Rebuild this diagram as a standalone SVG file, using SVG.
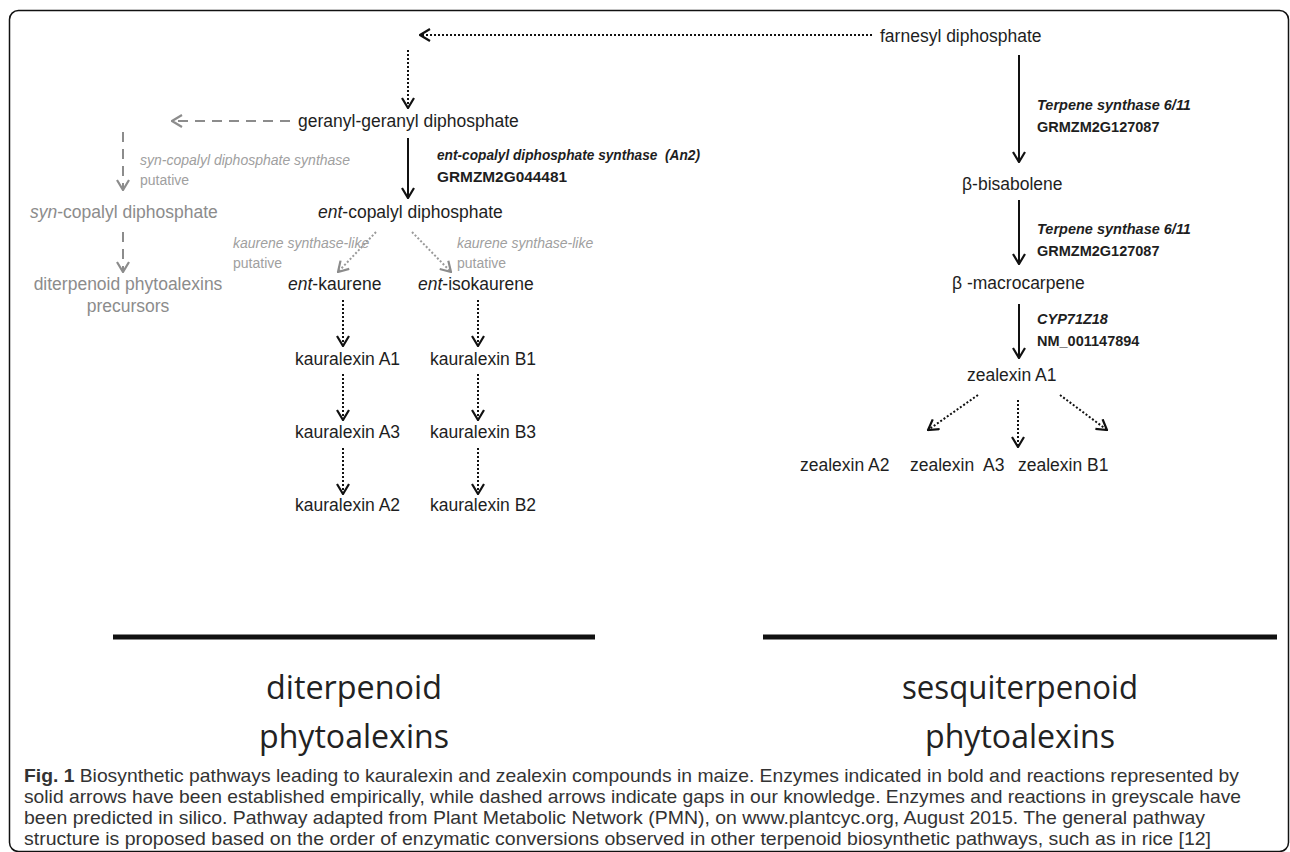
<svg xmlns="http://www.w3.org/2000/svg" width="1290" height="852" viewBox="0 0 1290 852">
<style>
.lbl{font-family:"Liberation Sans",Arial,sans-serif;font-size:17.5px;fill:#1e1e1e}
.gl{font-family:"Liberation Sans",Arial,sans-serif;font-size:17.5px;fill:#8c8c8c}
.enz{font-family:"Liberation Sans",Arial,sans-serif;font-size:14.5px;font-weight:bold;fill:#1e1e1e}
.genz{font-family:"Liberation Sans",Arial,sans-serif;font-size:14px;fill:#a0a0a0}
.big{font-family:"Open Sans","Liberation Sans",sans-serif;font-size:33px;fill:#222;text-anchor:middle}
.cap{font-family:"Liberation Sans",Arial,sans-serif;font-size:18.5px;fill:#333}
.solid{stroke:#111;stroke-width:2;fill:none}
.dot{stroke:#111;stroke-width:2;stroke-dasharray:2 2;fill:none}
.gdash{stroke:#8c8c8c;stroke-width:2;stroke-dasharray:10 7;fill:none}
.gdot{stroke:#9a9a9a;stroke-width:2;stroke-dasharray:2 2;fill:none}
.bar{stroke:#111;stroke-width:5}
</style>
<defs>
<marker id="ah" viewBox="0 0 12 14" refX="11" refY="7" markerWidth="12" markerHeight="14" orient="auto" markerUnits="userSpaceOnUse"><path d="M1,1 L11,7 L1,13" fill="none" stroke="#111" stroke-width="2.2"/></marker>
<marker id="ahg" viewBox="0 0 12 14" refX="11" refY="7" markerWidth="12" markerHeight="14" orient="auto" markerUnits="userSpaceOnUse"><path d="M1,1 L11,7 L1,13" fill="none" stroke="#8c8c8c" stroke-width="2.2"/></marker>
</defs>
<rect x="9.5" y="10.5" width="1279" height="841" rx="9" fill="#fff" stroke="#111" stroke-width="1.5"/>

<g id="connectors">
<line class="dot" x1="872" y1="35" x2="420" y2="35" marker-end="url(#ah)"/>
<line class="dot" x1="408" y1="50" x2="408" y2="108" marker-end="url(#ah)"/>
<line class="gdash" x1="290" y1="121" x2="172" y2="121" marker-end="url(#ahg)"/>
<line class="gdash" x1="123" y1="132" x2="123" y2="190" marker-end="url(#ahg)"/>
<line class="solid" x1="408" y1="138" x2="408" y2="198" marker-end="url(#ah)"/>
<line class="gdash" x1="123" y1="232" x2="123" y2="272" marker-end="url(#ahg)"/>
<line class="gdot" x1="376" y1="232" x2="338" y2="272" marker-end="url(#ahg)"/>
<line class="gdot" x1="412" y1="232" x2="451" y2="272" marker-end="url(#ahg)"/>
<line class="dot" x1="343" y1="300" x2="343" y2="346" marker-end="url(#ah)"/>
<line class="dot" x1="478" y1="300" x2="478" y2="346" marker-end="url(#ah)"/>
<line class="dot" x1="343" y1="374" x2="343" y2="420" marker-end="url(#ah)"/>
<line class="dot" x1="478" y1="374" x2="478" y2="420" marker-end="url(#ah)"/>
<line class="dot" x1="343" y1="448" x2="343" y2="494" marker-end="url(#ah)"/>
<line class="dot" x1="478" y1="448" x2="478" y2="494" marker-end="url(#ah)"/>
<line class="solid" x1="1019" y1="55" x2="1019" y2="162" marker-end="url(#ah)"/>
<line class="solid" x1="1019" y1="200" x2="1019" y2="264" marker-end="url(#ah)"/>
<line class="solid" x1="1019" y1="304" x2="1019" y2="358" marker-end="url(#ah)"/>
<line class="dot" x1="978" y1="395" x2="928" y2="430" marker-end="url(#ah)"/>
<line class="dot" x1="1018" y1="400" x2="1018" y2="447" marker-end="url(#ah)"/>
<line class="dot" x1="1060" y1="395" x2="1107" y2="430" marker-end="url(#ah)"/>
<line class="bar" x1="113" y1="637" x2="595" y2="637"/>
<line class="bar" x1="763" y1="637" x2="1277" y2="637"/>
</g>

<g id="n-farnesyl"><text class="lbl" x="880" y="42">farnesyl diphosphate</text></g>
<g id="n-ggpp"><text class="lbl" x="298" y="127">geranyl-geranyl diphosphate</text></g>
<g id="e-syncps"><text class="genz" x="140" y="165" font-style="italic">syn-copalyl diphosphate synthase</text><text class="genz" x="140" y="185">putative</text></g>
<g id="e-an2"><text class="enz" x="437" y="160" font-style="italic" xml:space="preserve" textLength="263" lengthAdjust="spacingAndGlyphs">ent-copalyl diphosphate synthase  (An2)</text><text class="enz" x="437" y="182" textLength="130" lengthAdjust="spacingAndGlyphs">GRMZM2G044481</text></g>
<g id="n-syncpp"><text class="gl" x="30" y="218"><tspan font-style="italic">syn</tspan>-copalyl diphosphate</text></g>
<g id="n-entcpp"><text class="lbl" x="318" y="218"><tspan font-style="italic">ent</tspan>-copalyl diphosphate</text></g>
<g id="e-ksl1"><text class="genz" x="233" y="248" font-style="italic">kaurene synthase-like</text><text class="genz" x="233" y="268">putative</text></g>
<g id="e-ksl2"><text class="genz" x="457" y="248" font-style="italic">kaurene synthase-like</text><text class="genz" x="457" y="268">putative</text></g>
<g id="n-dpprec"><text class="gl" x="128" y="290" text-anchor="middle">diterpenoid phytoalexins</text><text class="gl" x="128" y="312" text-anchor="middle">precursors</text></g>
<g id="n-entk"><text class="lbl" x="288" y="290"><tspan font-style="italic">ent</tspan>-kaurene</text></g>
<g id="n-entik"><text class="lbl" x="418" y="290"><tspan font-style="italic">ent</tspan>-isokaurene</text></g>
<g id="n-ka1"><text class="lbl" x="295" y="365">kauralexin A1</text></g>
<g id="n-kb1"><text class="lbl" x="430" y="365">kauralexin B1</text></g>
<g id="n-ka3"><text class="lbl" x="295" y="438">kauralexin A3</text></g>
<g id="n-kb3"><text class="lbl" x="430" y="438">kauralexin B3</text></g>
<g id="n-ka2"><text class="lbl" x="295" y="511">kauralexin A2</text></g>
<g id="n-kb2"><text class="lbl" x="430" y="511">kauralexin B2</text></g>

<g id="e-tps1"><text class="enz" x="1037" y="110" font-style="italic">Terpene synthase 6/11</text><text class="enz" x="1037" y="132">GRMZM2G127087</text></g>
<g id="n-bisab"><text class="lbl" x="962" y="190">β-bisabolene</text></g>
<g id="e-tps2"><text class="enz" x="1037" y="234" font-style="italic">Terpene synthase 6/11</text><text class="enz" x="1037" y="256">GRMZM2G127087</text></g>
<g id="n-macro"><text class="lbl" x="952" y="289" xml:space="preserve">β -macrocarpene</text></g>
<g id="e-cyp"><text class="enz" x="1037" y="324" font-style="italic">CYP71Z18</text><text class="enz" x="1037" y="346">NM_001147894</text></g>
<g id="n-za1"><text class="lbl" x="967" y="381">zealexin A1</text></g>
<g id="n-za2"><text class="lbl" x="800" y="471">zealexin A2</text></g>
<g id="n-za3"><text class="lbl" x="910" y="471" xml:space="preserve">zealexin  A3</text></g>
<g id="n-zb1"><text class="lbl" x="1018" y="471">zealexin B1</text></g>

<g id="t-diterp"><text class="big" x="354" y="699" textLength="176" lengthAdjust="spacingAndGlyphs">diterpenoid</text><text class="big" x="354" y="748" textLength="190" lengthAdjust="spacingAndGlyphs">phytoalexins</text></g>
<g id="t-sesq"><text class="big" x="1020" y="699" textLength="236" lengthAdjust="spacingAndGlyphs">sesquiterpenoid</text><text class="big" x="1020" y="748" textLength="190" lengthAdjust="spacingAndGlyphs">phytoalexins</text></g>

<g id="caption">
<text class="cap" x="24" y="782" textLength="1215" lengthAdjust="spacingAndGlyphs"><tspan font-weight="bold">Fig. 1</tspan> Biosynthetic pathways leading to kauralexin and zealexin compounds in maize. Enzymes indicated in bold and reactions represented by</text>
<text class="cap" x="24" y="803" textLength="1217" lengthAdjust="spacingAndGlyphs">solid arrows have been established empirically, while dashed arrows indicate gaps in our knowledge. Enzymes and reactions in greyscale have</text>
<text class="cap" x="24" y="824" textLength="1181" lengthAdjust="spacingAndGlyphs">been predicted in silico. Pathway adapted from Plant Metabolic Network (PMN), on www.plantcyc.org, August 2015. The general pathway</text>
<text class="cap" x="24" y="845" textLength="1187" lengthAdjust="spacingAndGlyphs">structure is proposed based on the order of enzymatic conversions observed in other terpenoid biosynthetic pathways, such as in rice [12]</text>
</g>
</svg>
